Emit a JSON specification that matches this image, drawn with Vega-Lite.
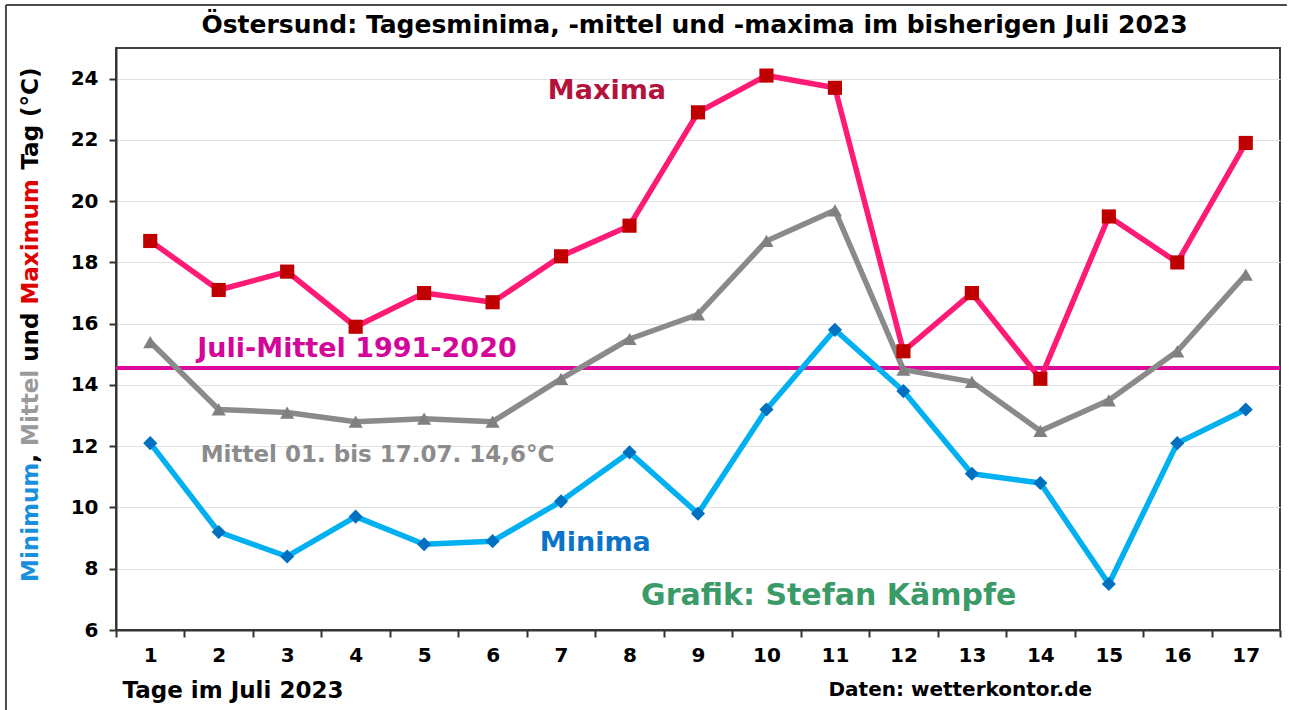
{
  "$schema": "https://vega.github.io/schema/vega-lite/v6.json",
  "width": 1164,
  "height": 582,
  "autosize": {"type": "none"},
  "padding": {"left": 116, "top": 48, "right": 9, "bottom": 80},
  "background": "white",
  "config": {
    "font": "DejaVu Sans",
    "view": {"stroke": "#404040", "strokeWidth": 2},
    "axis": {"labelFont": "DejaVu Sans", "labelFontWeight": "bold", "labelColor": "#000", "titleFont": "DejaVu Sans", "titleFontWeight": "bold", "titleColor": "#000"}
  },
  "layer": [
    {
      "data": {"values": [{}]},
      "mark": {"type": "rule", "color": "#4a4a4a", "strokeWidth": 2},
      "encoding": {"x": {"datum": -1.107, "type": "quantitative"}, "y": {"datum": 26.404, "type": "quantitative"}, "y2": {"datum": 1.5}}
    },
    {
      "data": {"values": [{}]},
      "mark": {"type": "rule", "color": "#4a4a4a", "strokeWidth": 2},
      "encoding": {"x": {"datum": -1.107, "type": "quantitative"}, "x2": {"datum": 17.6}, "y": {"datum": 26.404, "type": "quantitative"}}
    },
    {
      "data": {"values": [{}]},
      "mark": {"type": "text", "text": "Östersund: Tagesminima, -mittel und -maxima im bisherigen Juli 2023", "font": "DejaVu Sans", "fontWeight": "bold", "fontSize": 25, "color": "#000", "align": "center", "baseline": "alphabetic"},
      "encoding": {"x": {"datum": 8.949, "type": "quantitative"}, "y": {"datum": 25.49, "type": "quantitative"}}
    },
    {
      "data": {"values": [{}]},
      "mark": {"type": "rule", "color": "#DC0A9B", "strokeWidth": 4},
      "encoding": {"y": {"datum": 14.55, "type": "quantitative"}}
    },
    {
      "data": {"values": [
        {"tag": 1, "reihe": "Maximum", "wert": 18.7}, {"tag": 2, "reihe": "Maximum", "wert": 17.1}, {"tag": 3, "reihe": "Maximum", "wert": 17.7}, {"tag": 4, "reihe": "Maximum", "wert": 15.9}, {"tag": 5, "reihe": "Maximum", "wert": 17.0}, {"tag": 6, "reihe": "Maximum", "wert": 16.7}, {"tag": 7, "reihe": "Maximum", "wert": 18.2}, {"tag": 8, "reihe": "Maximum", "wert": 19.2}, {"tag": 9, "reihe": "Maximum", "wert": 22.9}, {"tag": 10, "reihe": "Maximum", "wert": 24.1}, {"tag": 11, "reihe": "Maximum", "wert": 23.7}, {"tag": 12, "reihe": "Maximum", "wert": 15.1}, {"tag": 13, "reihe": "Maximum", "wert": 17.0}, {"tag": 14, "reihe": "Maximum", "wert": 14.2}, {"tag": 15, "reihe": "Maximum", "wert": 19.5}, {"tag": 16, "reihe": "Maximum", "wert": 18.0}, {"tag": 17, "reihe": "Maximum", "wert": 21.9},
        {"tag": 1, "reihe": "Mittel", "wert": 15.4}, {"tag": 2, "reihe": "Mittel", "wert": 13.2}, {"tag": 3, "reihe": "Mittel", "wert": 13.1}, {"tag": 4, "reihe": "Mittel", "wert": 12.8}, {"tag": 5, "reihe": "Mittel", "wert": 12.9}, {"tag": 6, "reihe": "Mittel", "wert": 12.8}, {"tag": 7, "reihe": "Mittel", "wert": 14.2}, {"tag": 8, "reihe": "Mittel", "wert": 15.5}, {"tag": 9, "reihe": "Mittel", "wert": 16.3}, {"tag": 10, "reihe": "Mittel", "wert": 18.7}, {"tag": 11, "reihe": "Mittel", "wert": 19.7}, {"tag": 12, "reihe": "Mittel", "wert": 14.5}, {"tag": 13, "reihe": "Mittel", "wert": 14.1}, {"tag": 14, "reihe": "Mittel", "wert": 12.5}, {"tag": 15, "reihe": "Mittel", "wert": 13.5}, {"tag": 16, "reihe": "Mittel", "wert": 15.1}, {"tag": 17, "reihe": "Mittel", "wert": 17.6},
        {"tag": 1, "reihe": "Minimum", "wert": 12.1}, {"tag": 2, "reihe": "Minimum", "wert": 9.2}, {"tag": 3, "reihe": "Minimum", "wert": 8.4}, {"tag": 4, "reihe": "Minimum", "wert": 9.7}, {"tag": 5, "reihe": "Minimum", "wert": 8.8}, {"tag": 6, "reihe": "Minimum", "wert": 8.9}, {"tag": 7, "reihe": "Minimum", "wert": 10.2}, {"tag": 8, "reihe": "Minimum", "wert": 11.8}, {"tag": 9, "reihe": "Minimum", "wert": 9.8}, {"tag": 10, "reihe": "Minimum", "wert": 13.2}, {"tag": 11, "reihe": "Minimum", "wert": 15.8}, {"tag": 12, "reihe": "Minimum", "wert": 13.8}, {"tag": 13, "reihe": "Minimum", "wert": 11.1}, {"tag": 14, "reihe": "Minimum", "wert": 10.8}, {"tag": 15, "reihe": "Minimum", "wert": 7.5}, {"tag": 16, "reihe": "Minimum", "wert": 12.1}, {"tag": 17, "reihe": "Minimum", "wert": 13.2}
      ]},
      "layer": [
        {
          "mark": {"type": "line", "strokeWidth": 5.5, "strokeJoin": "round"},
          "encoding": {
            "x": {"field": "tag", "type": "quantitative",
              "scale": {"domain": [0.5, 17.5], "nice": false, "zero": false},
              "axis": {"values": [0.5, 1.5, 2.5, 3.5, 4.5, 5.5, 6.5, 7.5, 8.5, 9.5, 10.5, 11.5, 12.5, 13.5, 14.5, 15.5, 16.5, 17.5],
                "labelExpr": "datum.value < 17 ? toString(datum.value + 0.5) : ''",
                "labelOffset": 34.24, "labelFlush": false, "labelOverlap": false, "labelBound": false,
                "labelFontSize": 20, "labelPadding": 8,
                "tickSize": 7, "tickWidth": 2, "tickColor": "#333", "domainColor": "#333", "domainWidth": 2, "grid": false,
                "title": "Tage im Juli 2023", "titleFontSize": 23, "titleAnchor": "start", "titleAlign": "left", "titleBaseline": "middle", "titleX": 6, "titleY": 60}},
            "y": {"field": "wert", "type": "quantitative",
              "scale": {"domain": [6, 25], "nice": false, "zero": false},
              "axis": {"values": [6, 8, 10, 12, 14, 16, 18, 20, 22, 24], "labelFontSize": 20, "labelPadding": 11,
                "tickSize": 7, "tickWidth": 2, "tickColor": "#333", "domainColor": "#333", "domainWidth": 2,
                "grid": true, "gridColor": "#e2e2e2", "gridWidth": 1, "title": null}},
            "stroke": {"field": "reihe", "type": "nominal", "legend": null,
              "scale": {"domain": ["Maximum", "Mittel", "Minimum"], "range": ["#FF1A75", "#8A8A8A", "#00B0F0"]}},
            "detail": {"field": "reihe"}
          }
        },
        {
          "mark": {"type": "point", "filled": true, "strokeWidth": 0, "opacity": 1},
          "encoding": {
            "x": {"field": "tag", "type": "quantitative"},
            "y": {"field": "wert", "type": "quantitative"},
            "fill": {"field": "reihe", "type": "nominal", "legend": null,
              "scale": {"domain": ["Maximum", "Mittel", "Minimum"], "range": ["#C00000", "#808080", "#0070C0"]}},
            "shape": {"field": "reihe", "type": "nominal", "legend": null,
              "scale": {"domain": ["Maximum", "Mittel", "Minimum"], "range": ["square", "triangle-up", "diamond"]}},
            "size": {"field": "reihe", "type": "nominal", "legend": null,
              "scale": {"domain": ["Maximum", "Mittel", "Minimum"], "range": [200, 200, 250]}}
          }
        }
      ]
    },
    {
      "data": {"values": [{}]},
      "mark": {"type": "text", "text": "Maxima", "font": "DejaVu Sans", "fontWeight": "bold", "fontSize": 27, "color": "#B2123C", "align": "center", "baseline": "middle"},
      "encoding": {"x": {"datum": 7.67, "type": "quantitative"}, "y": {"datum": 23.6, "type": "quantitative"}}
    },
    {
      "data": {"values": [{}]},
      "mark": {"type": "text", "text": "Minima", "font": "DejaVu Sans", "fontWeight": "bold", "fontSize": 27, "color": "#0A74C8", "align": "center", "baseline": "middle"},
      "encoding": {"x": {"datum": 7.5, "type": "quantitative"}, "y": {"datum": 8.84, "type": "quantitative"}}
    },
    {
      "data": {"values": [{}]},
      "mark": {"type": "text", "text": "Juli-Mittel 1991-2020", "font": "DejaVu Sans", "fontWeight": "bold", "fontSize": 27, "color": "#D4069A", "align": "center", "baseline": "middle"},
      "encoding": {"x": {"datum": 4.02, "type": "quantitative"}, "y": {"datum": 15.17, "type": "quantitative"}}
    },
    {
      "data": {"values": [{}]},
      "mark": {"type": "text", "text": "Mittel 01. bis 17.07. 14,6°C", "font": "DejaVu Sans", "fontWeight": "bold", "fontSize": 23, "color": "#8C8C8C", "align": "center", "baseline": "middle"},
      "encoding": {"x": {"datum": 4.32, "type": "quantitative"}, "y": {"datum": 11.71, "type": "quantitative"}}
    },
    {
      "data": {"values": [{}]},
      "mark": {"type": "text", "text": "Grafik: Stefan Kämpfe", "font": "DejaVu Sans", "fontWeight": "bold", "fontSize": 30, "color": "#3A9A68", "align": "center", "baseline": "middle"},
      "encoding": {"x": {"datum": 10.91, "type": "quantitative"}, "y": {"datum": 7.11, "type": "quantitative"}}
    },
    {
      "data": {"values": [{}]},
      "mark": {"type": "text", "text": "Daten: wetterkontor.de", "font": "DejaVu Sans", "fontWeight": "bold", "fontSize": 20, "color": "#000", "align": "center", "baseline": "middle"},
      "encoding": {"x": {"datum": 12.83, "type": "quantitative"}, "y": {"datum": 4.04, "type": "quantitative"}}
    },
    {
      "data": {"values": [{}]},
      "mark": {"type": "text", "text": "Minimum", "angle": 270, "font": "DejaVu Sans", "fontWeight": "bold", "fontSize": 23, "color": "#1A8FDD", "align": "left", "baseline": "middle"},
      "encoding": {"x": {"datum": -0.741, "type": "quantitative"}, "y": {"datum": 7.567, "type": "quantitative"}}
    },
    {
      "data": {"values": [{}]},
      "mark": {"type": "text", "text": ",", "angle": 270, "font": "DejaVu Sans", "fontWeight": "bold", "fontSize": 23, "color": "#000", "align": "left", "baseline": "middle"},
      "encoding": {"x": {"datum": -0.741, "type": "quantitative"}, "y": {"datum": 11.462, "type": "quantitative"}}
    },
    {
      "data": {"values": [{}]},
      "mark": {"type": "text", "text": "Mittel", "angle": 270, "font": "DejaVu Sans", "fontWeight": "bold", "fontSize": 23, "color": "#9A9A9A", "align": "left", "baseline": "middle"},
      "encoding": {"x": {"datum": -0.741, "type": "quantitative"}, "y": {"datum": 12.007, "type": "quantitative"}}
    },
    {
      "data": {"values": [{}]},
      "mark": {"type": "text", "text": "und", "angle": 270, "font": "DejaVu Sans", "fontWeight": "bold", "fontSize": 23, "color": "#000", "align": "left", "baseline": "middle"},
      "encoding": {"x": {"datum": -0.741, "type": "quantitative"}, "y": {"datum": 14.755, "type": "quantitative"}}
    },
    {
      "data": {"values": [{}]},
      "mark": {"type": "text", "text": "Maximum", "angle": 270, "font": "DejaVu Sans", "fontWeight": "bold", "fontSize": 23, "color": "#E00000", "align": "left", "baseline": "middle"},
      "encoding": {"x": {"datum": -0.741, "type": "quantitative"}, "y": {"datum": 16.623, "type": "quantitative"}}
    },
    {
      "data": {"values": [{}]},
      "mark": {"type": "text", "text": "Tag (°C)", "angle": 270, "font": "DejaVu Sans", "fontWeight": "bold", "fontSize": 23, "color": "#000", "align": "left", "baseline": "middle"},
      "encoding": {"x": {"datum": -0.741, "type": "quantitative"}, "y": {"datum": 21.03, "type": "quantitative"}}
    }
  ]
}
